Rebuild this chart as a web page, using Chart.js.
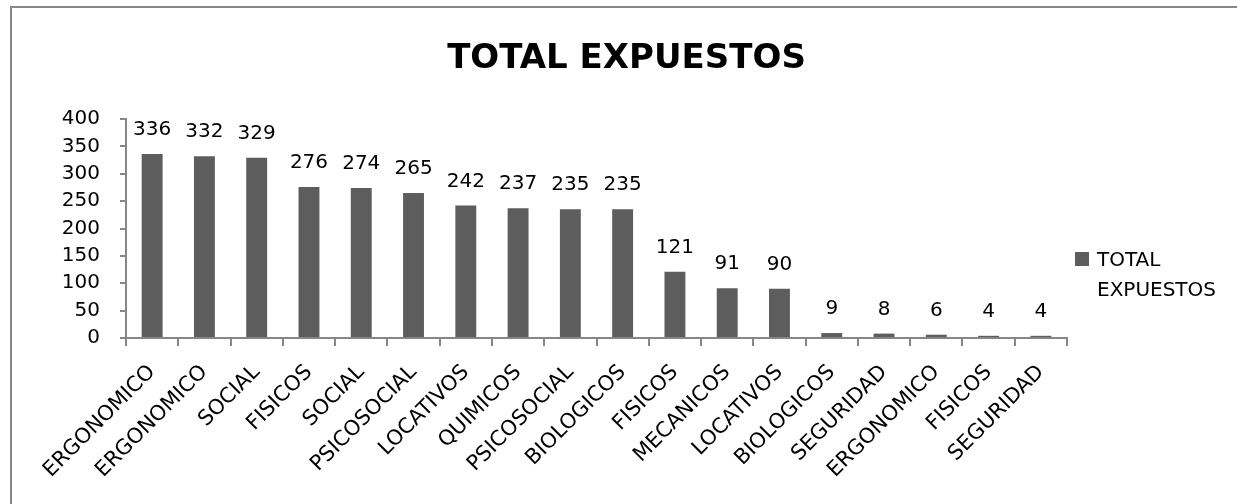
<!DOCTYPE html>
<html>
<head>
<meta charset="utf-8">
<script src="https://cdn.jsdelivr.net/npm/chart.js@4/dist/chart.umd.min.js"></script>
<style>
  html, body { margin: 0; padding: 0; background: #ffffff; overflow: hidden; }
  #frame { position: absolute; left: 10px; top: 6px; width: 1300px; height: 600px; border: 2px solid #888888; box-sizing: border-box; }
  #c { position: absolute; left: 0; top: 0; }
</style>
</head>
<body>
<div id="frame"></div>
<canvas id="c" width="1237" height="504"></canvas>
<script>
const chartTitle = "TOTAL EXPUESTOS";
const seriesName = ["TOTAL", "EXPUESTOS"];
const categories = ["ERGONOMICO", "ERGONOMICO", "SOCIAL", "FISICOS", "SOCIAL", "PSICOSOCIAL", "LOCATIVOS", "QUIMICOS", "PSICOSOCIAL", "BIOLOGICOS", "FISICOS", "MECANICOS", "LOCATIVOS", "BIOLOGICOS", "SEGURIDAD", "ERGONOMICO", "FISICOS", "SEGURIDAD"];
const totalExpuestos = [336, 332, 329, 276, 274, 265, 242, 237, 235, 235, 121, 91, 90, 9, 8, 6, 4, 4];
const yTicks = [0, 50, 100, 150, 200, 250, 300, 350, 400];

const FONT = "'DejaVu Sans', sans-serif";
const BAR = "#5d5d5d";
const AXIS = "#868686";

const decorPlugin = {
  id: 'decor',
  afterDatasetsDraw(chart) {
    const ctx = chart.ctx;
    const meta = chart.getDatasetMeta(0);
    ctx.save();
    ctx.fillStyle = '#000';
    ctx.font = "20px " + FONT;
    ctx.textAlign = 'center';
    ctx.textBaseline = 'alphabetic';
    meta.data.forEach((bar, i) => {
      ctx.fillText(String(chart.data.datasets[0].data[i]), bar.x, bar.y - 19);
    });
    ctx.restore();
  },
  afterDraw(chart) {
    const ctx = chart.ctx;
    const area = chart.chartArea;
    ctx.save();
    ctx.fillStyle = '#000';
    ctx.font = "bold 34px " + FONT;
    ctx.textAlign = 'center';
    ctx.textBaseline = 'alphabetic';
    ctx.fillText(chartTitle, 626.5, 68);
    const lx = area.right + 8;
    ctx.fillStyle = BAR;
    ctx.fillRect(lx, 252, 14, 14);
    ctx.fillStyle = '#000';
    ctx.font = "20px " + FONT;
    ctx.textAlign = 'left';
    ctx.fillText(seriesName[0], lx + 22, 266);
    ctx.fillText(seriesName[1], lx + 22, 296);
    ctx.restore();
  }
};

new Chart(document.getElementById('c'), {
  type: 'bar',
  data: {
    labels: categories,
    datasets: [{
      label: seriesName.join(' '),
      data: totalExpuestos,
      backgroundColor: BAR,
      borderWidth: 0,
      barPercentage: 0.4,
      categoryPercentage: 1.0
    }]
  },
  options: {
    responsive: false,
    devicePixelRatio: 1,
    animation: false,
    layout: { padding: { top: 119, right: 170, bottom: 0, left: 0 } },
    plugins: { legend: { display: false }, title: { display: false }, tooltip: { enabled: false } },
    scales: {
      x: {
        offset: true,
        grid: { display: true, drawOnChartArea: false, drawTicks: true, tickLength: 8, color: AXIS, lineWidth: 2, offset: true },
        border: { display: true, color: AXIS, width: 2 },
        ticks: { autoSkip: false, minRotation: 45, maxRotation: 45, color: '#000', font: { family: FONT, size: 21 }, padding: 14 },
        afterFit(s) { s.height = 166; }
      },
      y: {
        min: 0, max: 400,
        afterBuildTicks(s) { s.ticks = yTicks.map(v => ({ value: v })); },
        grid: { display: true, drawOnChartArea: false, drawTicks: true, tickLength: 6, color: AXIS, lineWidth: 2 },
        border: { display: true, color: AXIS, width: 2 },
        ticks: { color: '#000', font: { family: FONT, size: 20 }, padding: 20 },
        afterFit(s) { s.width = 126; }
      }
    }
  },
  plugins: [decorPlugin]
});
</script>
</body>
</html>
